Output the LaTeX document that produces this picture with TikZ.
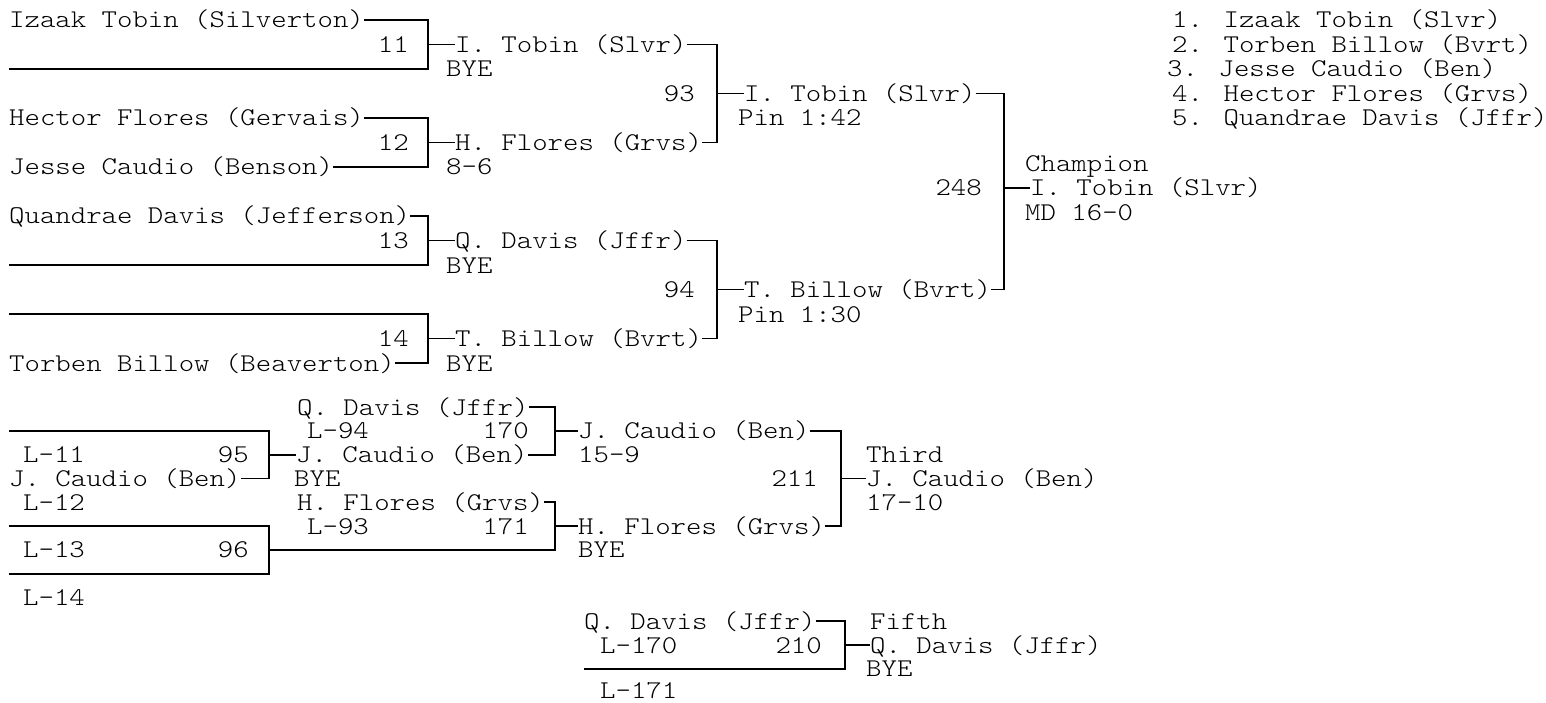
\documentclass[tikz,border=0pt]{standalone}
\usepackage{fontspec}
\newfontfamily\brkfont[FakeStretch=1.15]{lmmonolt10-regular.otf}
\usetikzlibrary{positioning}

\tikzset{
  every node/.style={font=\brkfont\fontsize{25.54}{30}\selectfont, inner sep=0pt, text height=16pt, text depth=0pt},
  wr/.style={anchor=west},
  mno/.style={anchor=east},
  brk/.style={line width=1.8pt},
}

\begin{document}
\begin{tikzpicture}[x=1pt,y=-1pt]
\fill[white] (0,0) rectangle (1546,703);
\useasboundingbox (0,0) rectangle (1546,703);

% championship side
\begin{scope}[y=-24.5pt,yshift=-20pt]
  \node[wr] (tobin) at (9,0) {Izaak Tobin (Silverton)};
  \coordinate (e11) at (9,2);
  \node[wr] (flores) at (9,4) {Hector Flores (Gervais)};
  \node[wr] (caudio) at (9,6) {Jesse Caudio (Benson)};
  \node[wr] (davis) at (9,8) {Quandrae Davis (Jefferson)};
  \coordinate (e13) at (9,10);
  \coordinate (e14) at (9,12);
  \node[wr] (billow) at (9,14) {Torben Billow (Beaverton)};

  \coordinate (b11) at (428,1);
  \coordinate (b12) at (428,5);
  \coordinate (b13) at (428,9);
  \coordinate (b14) at (428,13);
  \node[mno] (m11) at (409,1) {11};
  \node[mno] (m12) at (409,5) {12};
  \node[mno] (m13) at (409,9) {13};
  \node[mno] (m14) at (409,13) {14};
  \draw[brk] (tobin.east) -| (b11) |- (e11);
  \draw[brk] (flores.east) -| (b12) |- (caudio.east);
  \draw[brk] (davis.east) -| (b13) |- (e13);
  \draw[brk] (e14) -| (b14) |- (billow.east);

  \node[wr, right=27pt of b11] (r11) {I. Tobin (Slvr)};
  \node[wr, right=27pt of b12] (r12) {H. Flores (Grvs)};
  \node[wr, right=27pt of b13] (r13) {Q. Davis (Jffr)};
  \node[wr, right=27pt of b14] (r14) {T. Billow (Bvrt)};
  \draw[brk] (b11) -- (r11.west);
  \draw[brk] (b12) -- (r12.west);
  \draw[brk] (b13) -- (r13.west);
  \draw[brk] (b14) -- (r14.west);
  \node[wr] (s11) at (446,2) {BYE};
  \node[wr] (s12) at (446,6) {8-6};
  \node[wr] (s13) at (446,10) {BYE};
  \node[wr] (s14) at (446,14) {BYE};

  % semis
  \coordinate (b93) at (717,3);
  \coordinate (b94) at (717,11);
  \node[mno] (m93) at (695,3) {93};
  \node[mno] (m94) at (695,11) {94};
  \draw[brk] (r11.east) -| (b93) |- (r12.east);
  \draw[brk] (r13.east) -| (b94) |- (r14.east);
  \node[wr, right=27pt of b93] (r93) {I. Tobin (Slvr)};
  \node[wr, right=27pt of b94] (r94) {T. Billow (Bvrt)};
  \draw[brk] (b93) -- (r93.west);
  \draw[brk] (b94) -- (r94.west);
  \node[wr] (s93) at (738,4) {Pin 1:42};
  \node[wr] (s94) at (738,12) {Pin 1:30};

  % final
  \coordinate (b248) at (1004,6.85);
  \node[mno] (m248) at (982,6.85) {248};
  \draw[brk] (r93.east) -| (b248) |- (r94.east);
  \node[wr, right=26pt of b248] (r248) {I. Tobin (Slvr)};
  \draw[brk] (b248) -- (r248.west);
  \node[wr] (t248) at (1025,5.85) {Champion};
  \node[wr] (s248) at (1025,7.85) {MD 16-0};

  % placings
  \node[wr] (p1) at (1172,0) {1. Izaak Tobin (Slvr)};
  \node[wr] (p2) at (1172,1) {2. Torben Billow (Bvrt)};
  \node[wr] (p3) at (1167,2) {3. Jesse Caudio (Ben)};
  \node[wr] (p4) at (1172,3) {4. Hector Flores (Grvs)};
  \node[wr] (p5) at (1172,4) {5. Quandrae Davis (Jffr)};
\end{scope}

% consolation side
\begin{scope}[y=-23.8pt,yshift=-407pt]
  \coordinate (e95) at (9,1);
  \node[wr] (c95) at (9,3) {J. Caudio (Ben)};
  \coordinate (e96t) at (9,5);
  \coordinate (e96b) at (9,7);
  \node[wr] (l11) at (23,2) {L-11};
  \node[wr] (l12) at (23,4) {L-12};
  \node[wr] (l13) at (23,6) {L-13};
  \node[wr] (l14) at (23,8) {L-14};
  \coordinate (b95) at (269,2);
  \coordinate (b96) at (269,6);
  \node[mno] (m95) at (249,2) {95};
  \node[mno] (m96) at (249,6) {96};
  \draw[brk] (e95) -| (b95) |- (c95.east);
  \draw[brk] (e96t) -| (b96) |- (e96b);
  \node[wr, right=27pt of b95] (r95) {J. Caudio (Ben)};
  \draw[brk] (b95) -- (r95.west);
  \node[wr] (s95) at (294,3) {BYE};

  \node[wr] (d170) at (297,0) {Q. Davis (Jffr)};
  \node[wr] (l94) at (307,1) {L-94};
  \node[wr] (f171) at (297,4) {H. Flores (Grvs)};
  \node[wr] (l93) at (307,5) {L-93};
  \coordinate (b170) at (555,1);
  \coordinate (b171) at (555,5);
  \node[mno] (m170) at (529,1) {170};
  \node[mno] (m171) at (529,5) {171};
  \draw[brk] (d170.east) -| (b170) |- (r95.east);
  \draw[brk] (f171.east) -| (b171) |- (b96);
  \node[wr, right=23pt of b170] (r170) {J. Caudio (Ben)};
  \node[wr, right=23pt of b171] (r171) {H. Flores (Grvs)};
  \draw[brk] (b170) -- (r170.west);
  \draw[brk] (b171) -- (r171.west);
  \node[wr] (s170) at (578,2) {15-9};
  \node[wr] (s171) at (578,6) {BYE};

  % third place
  \coordinate (b211) at (841,3);
  \node[mno] (m211) at (818,3) {211};
  \draw[brk] (r170.east) -| (b211) |- (r171.east);
  \node[wr, right=25pt of b211] (r211) {J. Caudio (Ben)};
  \draw[brk] (b211) -- (r211.west);
  \node[wr] (t211) at (866,2) {Third};
  \node[wr] (s211) at (866,4) {17-10};

  % fifth place
  \node[wr] (d210) at (584,9) {Q. Davis (Jffr)};
  \node[wr] (l170) at (600,10) {L-170};
  \coordinate (e210) at (584,11);
  \node[wr] (l171) at (600,11.92) {L-171};
  \coordinate (b210) at (845,10);
  \node[mno] (m210) at (822,10) {210};
  \draw[brk] (d210.east) -| (b210) |- (e210);
  \node[wr, right=25pt of b210] (r210) {Q. Davis (Jffr)};
  \draw[brk] (b210) -- (r210.west);
  \node[wr] (t210) at (870,9) {Fifth};
  \node[wr] (s210) at (866,11) {BYE};
\end{scope}
\end{tikzpicture}
\end{document}
